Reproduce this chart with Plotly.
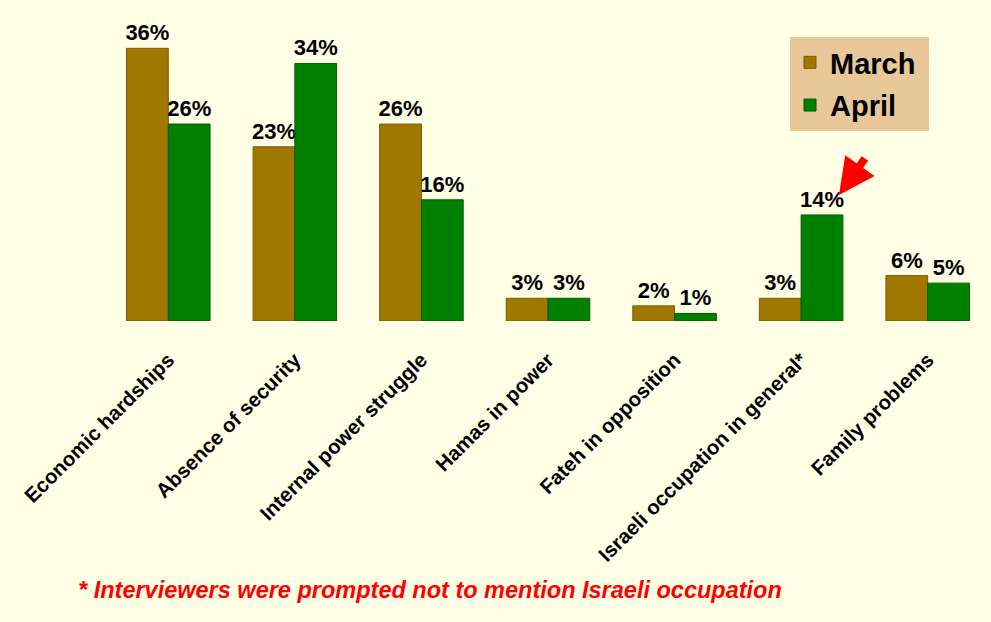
import plotly.graph_objects as go

categories = ["Economic hardships", "Absence of security", "Internal power struggle",
              "Hamas in power", "Fateh in opposition", "Israeli occupation in general*",
              "Family problems"]
march = [36, 23, 26, 3, 2, 3, 6]
april = [26, 34, 16, 3, 1, 14, 5]
march_labels = [f"{v}%" for v in march]
april_labels = [f"{v}%" for v in april]

W, H = 991, 622
L, R, T, B = 105, 0, 18, 301
pw, ph = W - L - R, H - T - B

def px_to_paper_x(px):
    return (px - L) / pw

def px_to_paper_y(py):
    return (H - B - py) / ph

fnt = "Liberation Sans, Arial, sans-serif"
BG = "#FFFFE6"

fig = go.Figure()
fig.add_trace(go.Bar(name="March\u00a0", x=categories, y=march, text=march_labels,
                     legendgroup="m",
                     textposition="outside", constraintext="none", cliponaxis=False,
                     marker=dict(color="#A07800", line=dict(color="#7A5C00", width=1)),
                     textfont=dict(family=fnt, size=22, color="black", weight="bold")))
fig.add_trace(go.Bar(name="April", x=categories, y=april, text=april_labels,
                     legendgroup="a",
                     textposition="outside", constraintext="none", cliponaxis=False,
                     marker=dict(color="#008000", line=dict(color="#005A00", width=1)),
                     textfont=dict(family=fnt, size=22, color="black", weight="bold")))

fig.update_layout(
    width=W, height=H,
    margin=dict(l=L, r=R, t=T, b=B, autoexpand=False),
    paper_bgcolor=BG, plot_bgcolor=BG,
    barmode="group", bargap=0.34, bargroupgap=0,
    font=dict(family=fnt, color="black"),
    showlegend=True,
    legend=dict(x=px_to_paper_x(790), y=px_to_paper_y(37), xanchor="left", yanchor="top",
                bgcolor="#E8C898", font=dict(size=29, family=fnt, color="black", weight="bold"),
                borderwidth=0, itemwidth=30, traceorder="grouped", tracegroupgap=2),
    xaxis=dict(tickangle=-45, tickfont=dict(size=20.5, family=fnt, color="black", weight="bold"),
               showline=False, showgrid=False, ticks="", zeroline=False,
               ticklabelstandoff=22),
    yaxis=dict(range=[0, 40], visible=False, showgrid=False, zeroline=False),
)

# arrow pointing at the 14% label
fig.add_annotation(x=px_to_paper_x(839), y=px_to_paper_y(195), xref="paper", yref="paper",
                   ax=27, ay=-38, axref="pixel", ayref="pixel", text="", showarrow=True,
                   arrowhead=2, arrowsize=0.9, arrowwidth=8, arrowcolor="#FF0000")

fig.add_annotation(x=px_to_paper_x(76), y=px_to_paper_y(590), xref="paper", yref="paper",
                   xanchor="left", yanchor="middle", showarrow=False,
                   text="<b><i>* Interviewers were prompted not to mention Israeli occupation</i></b>",
                   font=dict(size=23.5, family=fnt, color="#FF0000"))

fig.write_html("out.html", config={"displayModeBar": False},
               post_script="document.body.style.margin='0';document.body.style.background='" + BG + "';")
